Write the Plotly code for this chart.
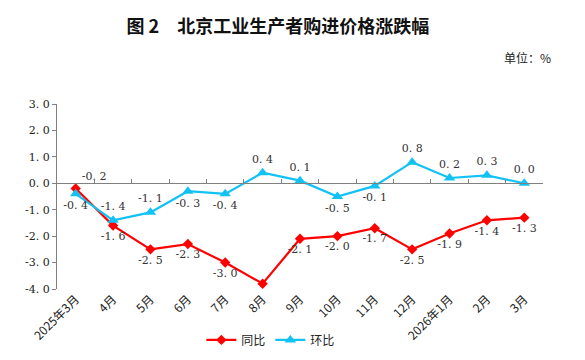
import plotly.graph_objects as go

categories = ["2025年3月", "4月", "5月", "6月", "7月", "8月", "9月", "10月", "11月", "12月", "2026年1月", "2月", "3月"]
yoy = [-0.2, -1.6, -2.5, -2.3, -3.0, -3.8, -2.1, -2.0, -1.7, -2.5, -1.9, -1.4, -1.3]
mom = [-0.4, -1.4, -1.1, -0.3, -0.4, 0.4, 0.1, -0.5, -0.1, 0.8, 0.2, 0.3, 0.0]

yoy_pos = ["top right"] + ["bottom center"] * 12
mom_pos = ["bottom center", "top center", "top center", "bottom center", "bottom center",
           "top center", "top center", "bottom center", "bottom center", "top center",
           "top center", "top center", "top center"]

def fmt(v):
    return ("-" if v < 0 else "") + "%d. %d" % (int(abs(v)), round(abs(v) * 10) % 10)

RED = "#FF0000"
CYAN = "#12C2F4"
txtfont = dict(family="DejaVu Serif, Noto Sans CJK SC", size=11, color="#333333")

fig = go.Figure()
fig.add_trace(go.Scatter(
    x=categories, y=yoy, name="同比", mode="lines+markers+text",
    line=dict(color=RED, width=2.2),
    marker=dict(symbol="diamond", size=8, color=RED),
    text=[fmt(v) for v in yoy], textposition=yoy_pos, textfont=txtfont,
))
fig.add_trace(go.Scatter(
    x=categories, y=mom, name="环比", mode="lines+markers+text",
    line=dict(color=CYAN, width=2.2),
    marker=dict(symbol="triangle-up", size=10, color=CYAN),
    text=[fmt(v) for v in mom], textposition=mom_pos, textfont=txtfont,
))

yticks = [3, 2, 1, 0, -1, -2, -3, -4]
xrange = [-0.5, len(categories) - 0.5]
fig.update_layout(
    width=585, height=360,
    margin=dict(l=57, r=42, t=104, b=71, autoexpand=False),
    paper_bgcolor="white", plot_bgcolor="white",
    showlegend=True,
    legend=dict(orientation="h", x=0.44, xanchor="center", y=-0.275, yanchor="middle",
                font=dict(family="Noto Sans CJK SC", size=12, color="#222")),
    title=dict(text="<b>图 2　北京工业生产者购进价格涨跌幅</b>", x=0.475, xanchor="center",
               y=0.925, yanchor="middle",
               font=dict(family="Noto Sans CJK SC", size=18, color="#111")),
    xaxis=dict(type="category", range=xrange, showline=False, showgrid=False, ticks="",
               tickangle=-45, automargin=False,
               tickfont=dict(family="Noto Sans CJK SC", size=12, color="#222"), zeroline=False),
    xaxis2=dict(type="category", overlaying="x", anchor="free", position=4/7, matches="x",
                showline=True, linecolor="#808080", linewidth=1, ticks="inside", ticklen=4,
                tickcolor="#808080", tickson="boundaries", showticklabels=False, showgrid=False),
    yaxis=dict(range=[-4, 3], tickvals=yticks, ticktext=[fmt(v) for v in yticks],
               showline=True, linecolor="#808080", linewidth=1, ticks="outside", ticklen=4,
               tickcolor="#808080", showgrid=False, zeroline=False, automargin=False,
               tickfont=dict(family="DejaVu Serif", size=11, color="#222")),
)
fig.add_trace(go.Scatter(x=categories, y=[None] * len(categories), xaxis="x2", showlegend=False,
                         hoverinfo="skip"))
fig.add_annotation(text="单位：%", xref="paper", yref="paper", x=1.02, y=1.254, xanchor="right",
                   yanchor="middle", showarrow=False,
                   font=dict(family="Noto Sans CJK SC", size=12, color="#222"))
fig.write_html("out.html", config={"displayModeBar": False},
               post_script="document.body.style.margin='0';document.body.style.overflow='hidden';")
